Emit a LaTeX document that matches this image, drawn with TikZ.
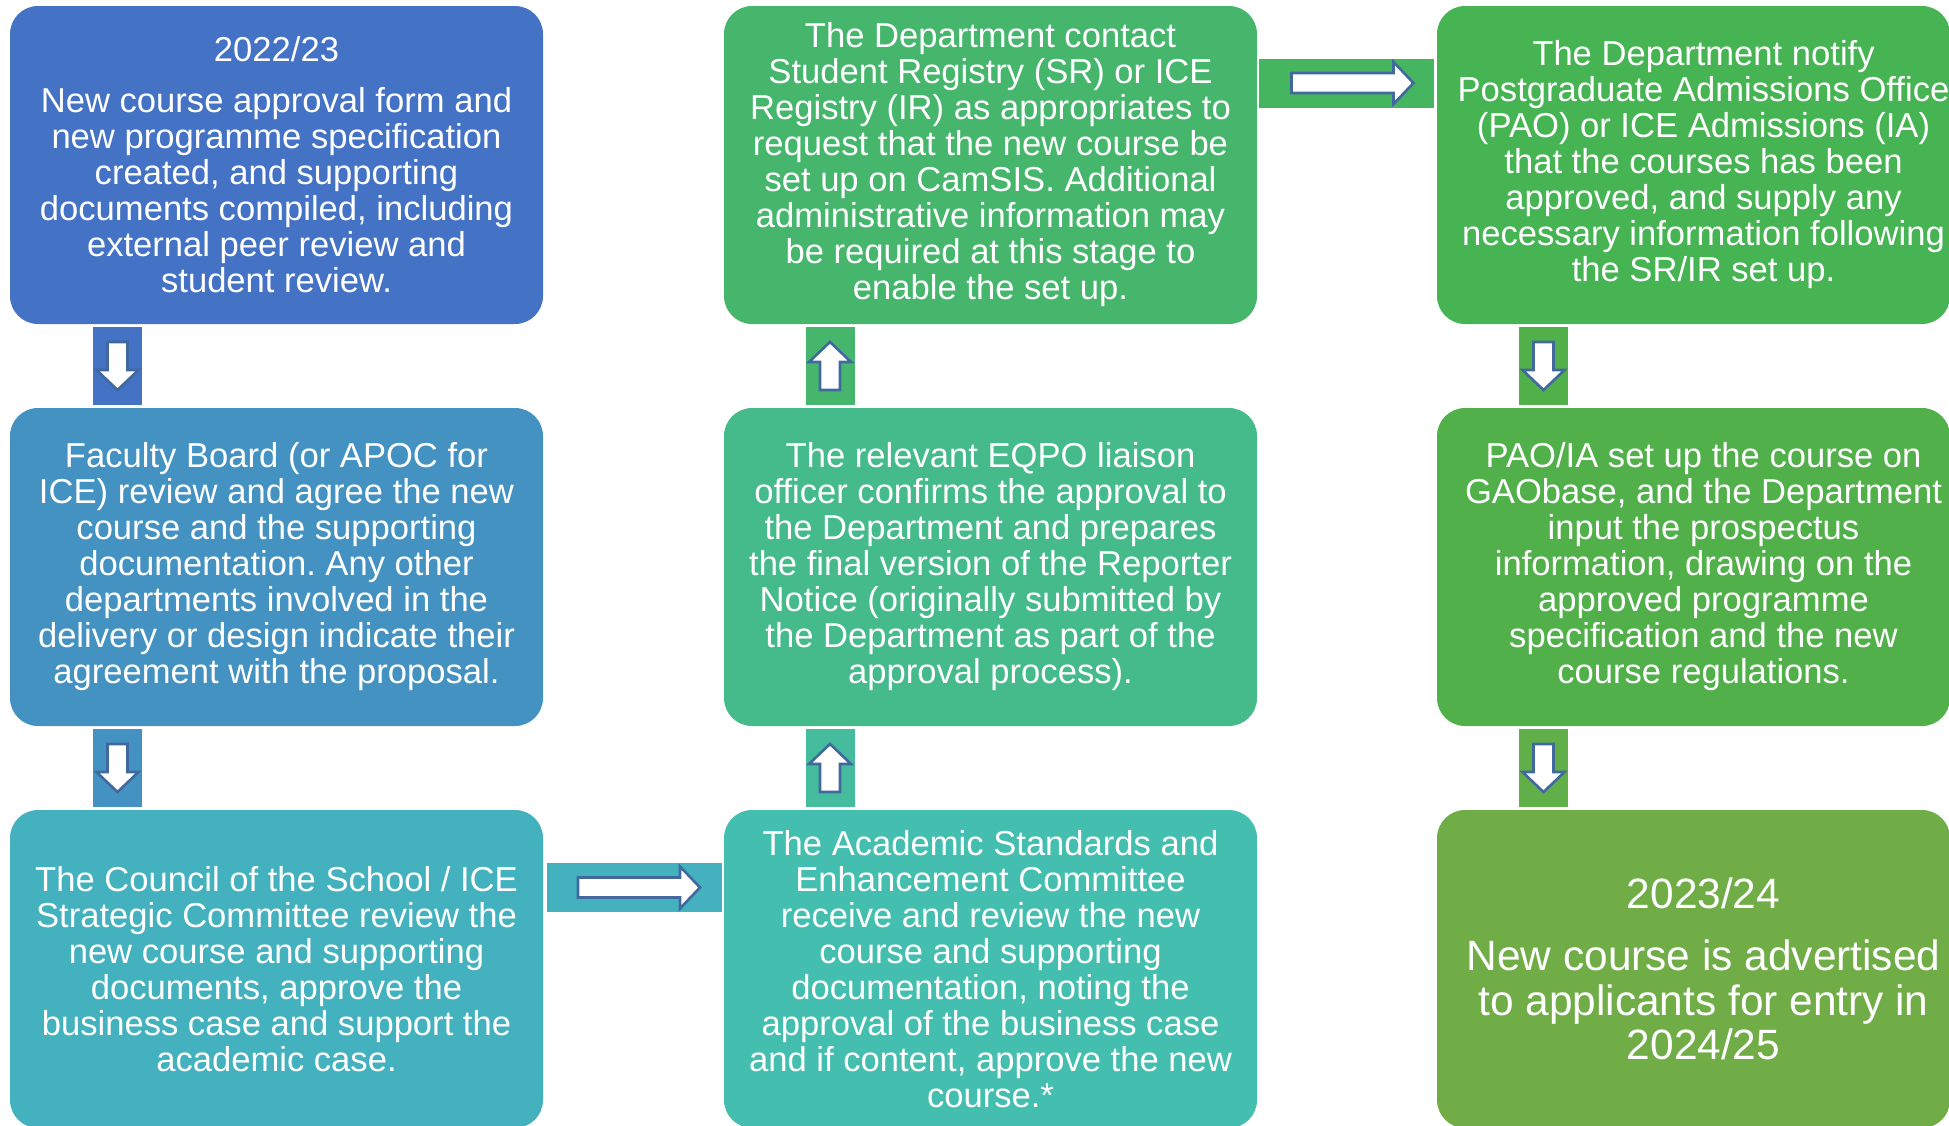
\documentclass[tikz,border=0pt]{standalone}
\usepackage{fontspec}
\setmainfont{Liberation Sans}
\usepackage{tikz}
\usetikzlibrary{calc}
\frenchspacing
\definecolor{boxa}{HTML}{4472C4}
\definecolor{boxb}{HTML}{4492C2}
\definecolor{boxc}{HTML}{43B1BE}
\definecolor{boxd}{HTML}{44BEAF}
\definecolor{boxe}{HTML}{45BA8B}
\definecolor{boxf}{HTML}{45B66C}
\definecolor{boxg}{HTML}{47B453}
\definecolor{boxh}{HTML}{52B04B}
\definecolor{boxi}{HTML}{70AD47}
\definecolor{arrowline}{HTML}{41699E}
\tikzset{every picture/.style={
  line join=miter               % Sharp block arrow heads.
  }
}

\begin{document}
\begin{tikzpicture}[
    x=0.5pt, y=-0.5pt,
    box/.style={
      rounded corners=14pt,
      minimum width=266.5pt,
      minimum height=159pt,
      inner sep=0pt,
      text=white,
      align=center,
      font=\fontsize{17.3}{18}\selectfont
    },
    txt/.style={
      inner sep=0pt,
      text=white,
      align=center,
      font=\fontsize{17.3}{18}\selectfont
    },
    vlink/.style={inner sep=0pt,minimum width=24.5pt,minimum height=39pt},
    hlink/.style={inner sep=0pt,minimum width=87.5pt,minimum height=24.5pt},
    blk/.style={
      draw=arrowline,
      fill=white,
      line width=1.3pt
    }]

    % Helper macro: block arrow at #1, turned by #2, half length #3.
    \def\blk#1#2#3{
      \draw[blk,shift={#1},rotate=#2] (-#3,-10) -- (#3-20,-10) --
        (#3-20,-21) -- (#3,0) -- (#3-20,21) -- (#3-20,10) -- (-#3,10) -- cycle;
    }

    \useasboundingbox (0,0) rectangle (1949,1125);
    \clip (0,0) rectangle (1949,1125);

    % Draw the left column.
    \node[box,fill=boxa] (form) at (276.5,165)
      {2022/23\\[7.5pt]
       New course approval form and\\new programme specification\\
       created, and supporting\\documents compiled, including\\
       external peer review and\\student review.};
    \node[box,fill=boxb] (faculty) at (276.5,567)
      {Faculty Board (or APOC for\\ICE) review and agree the new\\
       course and the supporting\\documentation. Any other\\
       departments involved in the\\delivery or design indicate their\\
       agreement with the proposal.};
    \node[box,fill=boxc] (council) at (276.5,969)
      {The Council of the School / ICE\\Strategic Committee review the\\
       new course and supporting\\documents, approve the\\
       business case and support the\\academic case.};

    % Draw the middle column.
    \node[box,fill=boxd] (asec) at (990.5,969)
      {The Academic Standards and\\Enhancement Committee\\
       receive and review the new\\course and supporting\\
       documentation, noting the\\approval of the business case\\
       and if content, approve the new\\course.*};
    \node[box,fill=boxe] (eqpo) at (990.5,567)
      {The relevant EQPO liaison\\officer confirms the approval to\\
       the Department and prepares\\the final version of the Reporter\\
       Notice (originally submitted by\\the Department as part of the\\
       approval process).};
    \node[box,fill=boxf] (registry) at (990.5,165)
      {The Department contact\\Student Registry (SR) or ICE\\
       Registry (IR) as appropriates to\\request that the new course be\\
       set up on CamSIS. Additional\\administrative information may\\
       be required at this stage to\\enable the set up.};

    % Draw the right column.
    \node[box,fill=boxg,minimum width=256.5pt] (notify) at (1693.5,165) {};
    \node[txt] (notifytext) at ([xshift=5pt] notify.center)
      {The Department notify\\Postgraduate Admissions Office\\
       (PAO) or ICE Admissions (IA)\\that the courses has been\\
       approved, and supply any\\necessary information following\\
       the SR/IR set up.};
    \node[box,fill=boxh,minimum width=256.5pt] (gaobase) at (1693.5,567) {};
    \node[txt] (gaobasetext) at ([xshift=5pt] gaobase.center)
      {PAO/IA set up the course on\\GAObase, and the Department\\
       input the prospectus\\information, drawing on the\\
       approved programme\\specification and the new\\
       course regulations.};
    \node[box,fill=boxi,minimum width=256.5pt] (advert) at (1693.5,969) {};
    \node[txt,font=\fontsize{21.2}{22.4}\selectfont] (adverttext)
      at ([xshift=5pt] advert.center)
      {2023/24\\[8.5pt]
       New course is advertised\\to applicants for entry in\\2024/25};

    % Draw the links between the steps.
    \node[vlink,fill=boxa] (l12) at (117.5,366) {};
    \node[vlink,fill=boxb] (l23) at (117.5,768) {};
    \node[hlink,fill=boxc] (l34) at (634,887.5) {};
    \node[vlink,fill=boxd!50!boxe] (l45) at (830,768) {};
    \node[vlink,fill=boxf] (l56) at (830,366) {};
    \node[hlink,fill=boxf!50!boxg] (l67) at (1346.5,83) {};
    \node[vlink,fill=boxh] (l78) at (1543.5,366) {};
    \node[vlink,fill=boxh!50!boxi] (l89) at (1543.5,768) {};

    \blk{(l12)}{-90}{24}
    \blk{(l23)}{-90}{24}
    \blk{($(l34)+(5,0)$)}{0}{61}
    \blk{(l45)}{90}{24}
    \blk{(l56)}{90}{24}
    \blk{($(l67)+(6,0)$)}{0}{61}
    \blk{(l78)}{-90}{24}
    \blk{(l89)}{-90}{24}

  \end{tikzpicture}
\end{document}
